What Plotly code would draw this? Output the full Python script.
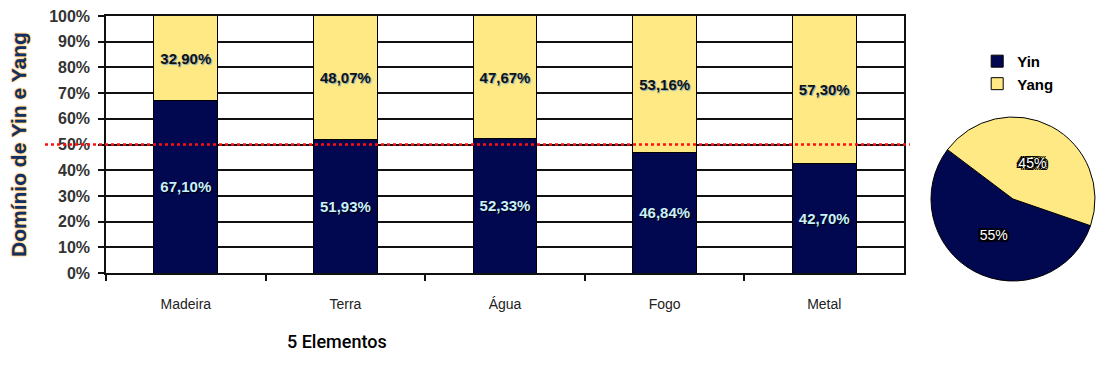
import plotly.graph_objects as go

categories = ["Madeira", "Terra", "Água", "Fogo", "Metal"]
yin_values = [67.10, 51.93, 52.33, 46.84, 42.70]
yang_values = [32.90, 48.07, 47.67, 53.16, 57.30]
pie_labels = ["Yin", "Yang"]
pie_values = [55, 45]
reference_level = 50

YIN = "#010850"
YANG = "#ffe985"

fig = go.Figure()
fig.add_trace(go.Bar(
    x=categories, y=yin_values, name="Yin", showlegend=False,
    marker=dict(color=YIN, line=dict(color="#000", width=1)),
    width=0.4, texttemplate="%{y:.2f}%", textposition="inside",
    insidetextanchor="middle", constraintext="none",
    textfont=dict(family="Arial", size=15, weight="bold", color="#c8f0ff",
                  shadow="1px 1px 1px #000"),
))
fig.add_trace(go.Bar(
    x=categories, y=yang_values, name="Yang", showlegend=False,
    marker=dict(color=YANG, line=dict(color="#000", width=1)),
    width=0.4, texttemplate="%{y:.2f}%", textposition="inside",
    insidetextanchor="middle", constraintext="none",
    textfont=dict(family="Arial", size=15, weight="bold", color="#111",
                  shadow="1px 1px 1px #7ab"),
))
fig.add_trace(go.Pie(
    labels=pie_labels, values=pie_values, sort=False, direction="clockwise",
    rotation=109,
    marker=dict(colors=[YIN, YANG], line=dict(color="#000", width=1)),
    textinfo="percent", textposition="inside",
    insidetextfont=dict(family="Arial", size=14, color="#fff",
                        shadow="2px 0 0 #000, -2px 0 0 #000, 0 2px 0 #000, 0 -2px 0 #000, 2px 2px 0 #000, -2px -2px 0 #000, 2px -2px 0 #000, -2px 2px 0 #000"),
    domain=dict(x=[0.8333, 0.999], y=[0.011, 0.614]),
    hoverinfo="label+percent",
))

fig.update_layout(
    width=1090, height=351,
    margin=dict(l=98, r=2, t=4, b=75, autoexpand=False),
    barmode="stack", bargap=0.6,
    plot_bgcolor="#fff", paper_bgcolor="#fff",
    separators=",.",
    font=dict(family="Arial", color="#222"),
    xaxis=dict(
        domain=[0, 0.8061], type="category", automargin=False,
        showline=True, linecolor="#111", linewidth=1.5, mirror=True,
        ticks="outside", tickson="boundaries", ticklen=6, tickcolor="#111", tickwidth=1.5,
        showgrid=False,
        tickfont=dict(family="Arial", size=14, color="#222"),
        ticklabelstandoff=17,
    ),
    yaxis=dict(
        domain=[0.0404, 0.9853], range=[0, 100], dtick=10, ticksuffix="%",
        automargin=False,
        showline=True, linecolor="#111", linewidth=1.5, mirror=True,
        ticks="outside", ticklen=6, tickcolor="#111", tickwidth=1.5,
        showgrid=True, gridcolor="#111", gridwidth=1.5,
        tickfont=dict(family="Arial", size=16, weight="bold", color="#333"),
        ticklabelstandoff=5, ticklabeloverflow="allow",
        zeroline=False,
    ),
    legend=dict(
        x=0.88, y=0.879, xanchor="left", yanchor="top", traceorder="normal",
        font=dict(family="Arial", size=15, weight="bold", color="#000"),
        bgcolor="rgba(0,0,0,0)", itemwidth=30,
    ),
    shapes=[dict(
        type="line", xref="paper", yref="y",
        x0=-0.0616, x1=0.812, y0=reference_level, y1=reference_level,
        line=dict(color="#ff1010", width=2.5, dash="dot"), layer="above",
    )],
    annotations=[
        dict(text="Domínio de Yin e Yang", xref="paper", yref="paper",
             x=-0.0889, y=0.5147, textangle=-90, showarrow=False,
             xanchor="center", yanchor="middle",
             font=dict(family="Arial", size=21, weight="bold", color="#10306a",
                       shadow="0 0 2px #ff9900, 0 0 1px #ff9900")),
        dict(text="5 Elementos", xref="paper", yref="paper",
             x=0.2333, y=-0.2132, showarrow=False,
             xanchor="center", yanchor="middle",
             font=dict(family="Roboto", size=18, weight=500, color="#000")),
    ],
)

fig.write_html("out.html")
